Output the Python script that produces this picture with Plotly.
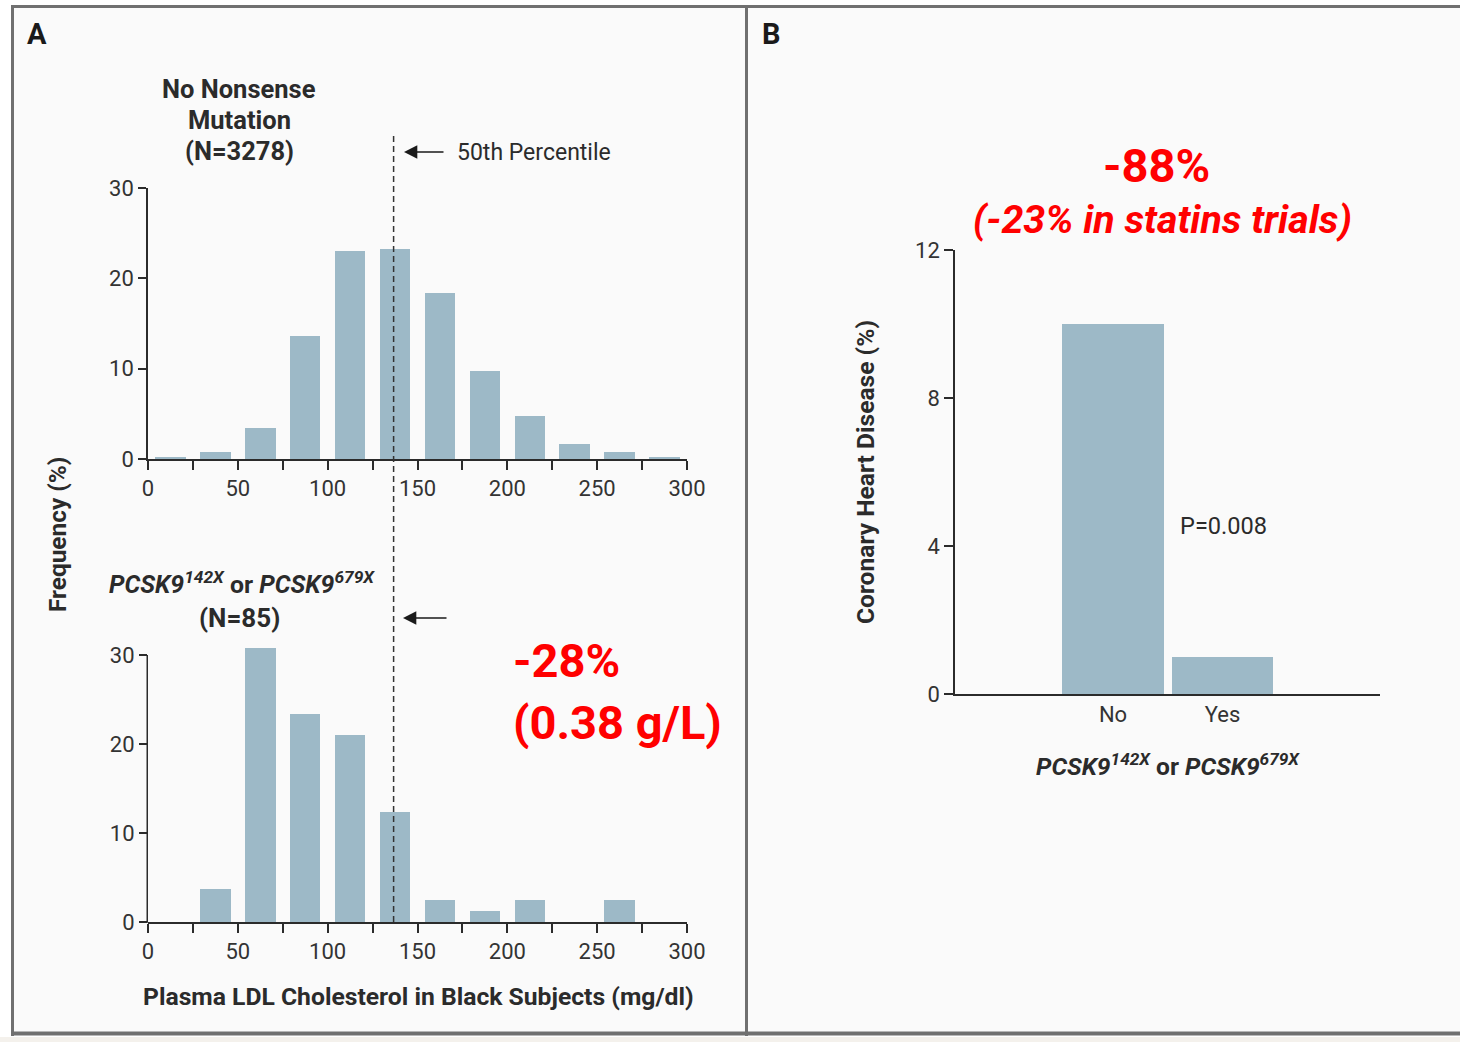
import plotly.graph_objects as go

W, H = 1460, 1042

# ---------------- data ----------------
bin_centers = [12.5, 37.5, 62.5, 87.5, 112.5, 137.5, 162.5, 187.5, 212.5, 237.5, 262.5, 287.5]
freq_no_mutation = [0.2, 0.8, 3.4, 13.6, 23.0, 23.2, 18.4, 9.7, 4.8, 1.7, 0.8, 0.15]
freq_mutation = [0.0, 3.7, 30.8, 23.4, 21.1, 12.4, 2.5, 1.3, 2.5, 0.0, 2.5, 0.0]
median_ldl = 136.7
chd_categories = ["No", "Yes"]
chd_values = [10.0, 1.0]
ldl_tick_vals = [0, 50, 100, 150, 200, 250, 300]
ldl_minor_tick_vals = [25, 75, 125, 175, 225, 275]
freq_tick_vals = [0, 10, 20, 30]
chd_tick_vals = [0, 4, 8, 12]

# ---------------- style ----------------
FONT = "Roboto, Arial, sans-serif"
RED_FONT = "Roboto, Arial, sans-serif"
BAR = "#9db9c7"
INK = "#2b2b2b"
FRAME = "#707070"


def px(x):
    return x / W


def py(y):
    return 1 - y / H


fig = go.Figure()
fig.add_trace(go.Bar(x=bin_centers, y=freq_no_mutation, width=17, marker=dict(color=BAR, line=dict(width=0)),
                     xaxis="x", yaxis="y", hoverinfo="skip"))
fig.add_trace(go.Bar(x=bin_centers, y=freq_mutation, width=17, marker=dict(color=BAR, line=dict(width=0)),
                     xaxis="x2", yaxis="y2", hoverinfo="skip"))
fig.add_trace(go.Bar(x=chd_categories, y=chd_values, width=0.925, marker=dict(color=BAR, line=dict(width=0)),
                     xaxis="x3", yaxis="y3", hoverinfo="skip"))

axis_common = dict(showline=True, linecolor=INK, linewidth=1.5, ticks="outside", tickcolor=INK,
                   tickwidth=1.5, showgrid=False, zeroline=False, fixedrange=True, automargin=False,
                   tickfont=dict(family=FONT, size=22, color="#333333"))
minor_ticks = dict(tickmode="array", tickvals=ldl_minor_tick_vals, ticks="outside", ticklen=9,
                   tickwidth=1.5, tickcolor=INK, showgrid=False)

# bottom histogram: axis scale 267 px per 30 units, extra headroom so the tallest bar is not clipped
y2_top_value = 31.5
y2_top_px = 922 - y2_top_value * 267 / 30

fig.update_layout(
    width=W, height=H, autosize=False,
    margin=dict(l=0, r=0, t=0, b=0, pad=0, autoexpand=False),
    paper_bgcolor="white", plot_bgcolor="rgba(0,0,0,0)", showlegend=False, bargap=0,
    xaxis=dict(axis_common, domain=[px(148), px(687)], range=[0, 300], anchor="y",
               tickvals=ldl_tick_vals, ticklen=9, minor=minor_ticks),
    yaxis=dict(axis_common, domain=[py(459), py(188)], range=[0, 30], anchor="x",
               tickvals=freq_tick_vals, ticklen=8),
    xaxis2=dict(axis_common, domain=[px(148), px(687)], range=[0, 300], anchor="y2",
                tickvals=ldl_tick_vals, ticklen=9, minor=minor_ticks),
    yaxis2=dict(axis_common, domain=[py(922), py(y2_top_px)], range=[0, y2_top_value], anchor="x2",
                tickvals=freq_tick_vals, ticklen=8, showline=False),
    xaxis3=dict(axis_common, domain=[px(955), px(1380)], range=[-1.443, 2.438], anchor="y3",
                type="category", ticks=""),
    yaxis3=dict(axis_common, domain=[py(694), py(250)], range=[0, 12], anchor="x3",
                tickvals=chd_tick_vals, ticklen=9),
)

shapes = [
    # panel background and frame
    dict(type="rect", xref="paper", yref="paper", x0=px(12), x1=1, y0=py(1034), y1=py(7),
         fillcolor="#fafafa", line=dict(width=0), layer="below"),
    dict(type="rect", xref="paper", yref="paper", x0=0, x1=1, y0=0, y1=py(1037),
         fillcolor="#f4f1ec", line=dict(width=0), layer="below"),
    dict(type="line", xref="paper", yref="paper", x0=px(11), x1=1, y0=py(6.5), y1=py(6.5),
         line=dict(color=FRAME, width=3)),
    dict(type="line", xref="paper", yref="paper", x0=px(12.5), x1=px(12.5), y0=py(5), y1=py(1036),
         line=dict(color=FRAME, width=3)),
    dict(type="line", xref="paper", yref="paper", x0=px(746.5), x1=px(746.5), y0=py(5), y1=py(1036),
         line=dict(color=FRAME, width=3)),
    dict(type="line", xref="paper", yref="paper", x0=px(11), x1=1, y0=py(1033.5), y1=py(1033.5),
         line=dict(color=FRAME, width=4)),
    # bottom histogram y-axis line (0 to 30 only)
    dict(type="line", xref="paper", yref="paper", x0=px(147.25), x1=px(147.25), y0=py(922.75), y1=py(655),
         line=dict(color=INK, width=1.5)),
    # 50th percentile dashed line
    dict(type="line", xref="x", yref="paper", x0=median_ldl, x1=median_ldl, y0=py(922), y1=py(132),
         line=dict(color="#333333", width=1.5, dash="6px,4px")),
]
fig.update_layout(shapes=shapes)

ann = []


def text(x, y, s, size, bold=False, italic=False, color=INK, family=FONT, xanchor="center", angle=0):
    if bold:
        s = "<b>" + s + "</b>"
    if italic:
        s = "<i>" + s + "</i>"
    ann.append(dict(xref="paper", yref="paper", x=px(x), y=py(y), text=s, showarrow=False,
                    xanchor=xanchor, yanchor="middle", textangle=angle,
                    font=dict(family=family, size=size, color=color)))


# panel letters
text(37, 34, "A", 29, bold=True, color="#1a1a1a")
text(771, 34, "B", 29, bold=True, color="#1a1a1a")

# panel A titles
text(239, 89, "No Nonsense", 25.5, bold=True)
text(239, 120, "Mutation", 25.5, bold=True)
text(239, 151, "(N=3278)", 25.5, bold=True)
text(455, 152, "50th Percentile", 23, xanchor="left")
text(242, 583, "<i>PCSK9</i><sup><i>142X</i></sup> or <i>PCSK9</i><sup><i>679X</i></sup>", 24.8, bold=True)
text(239, 618, "(N=85)", 26, bold=True)
text(57, 535, "Frequency (%)", 24.4, bold=True, angle=-90)
text(418, 996, "Plasma LDL Cholesterol in Black Subjects (mg/dl)", 24.7, bold=True)

# panel B titles
text(865, 472, "Coronary Heart Disease (%)", 24.6, bold=True, angle=-90)
text(1168, 765, "<i>PCSK9</i><sup><i>142X</i></sup> or <i>PCSK9</i><sup><i>679X</i></sup>", 24.6, bold=True)
text(1178, 526, "P=0.008", 23.6, xanchor="left")

# red annotations
RED = "#ff0000"
text(566, 660, "-28%", 47, bold=True, color=RED, family=RED_FONT)
text(617, 722, "(0.38 g/L)", 47, bold=True, color=RED, family=RED_FONT)
text(1156, 165, "-88%", 47, bold=True, color=RED, family=RED_FONT)
text(1162, 220, "(-23% in statins trials)", 39.4, bold=True, italic=True, color=RED, family=RED_FONT)

# arrows
for head_x, tail_x, yy in [(404, 445, 152), (403, 448, 618)]:
    ann.append(dict(xref="paper", yref="paper", x=px(head_x), y=py(yy), ax=tail_x - head_x, ay=0,
                    text="", showarrow=True, arrowhead=2, arrowsize=1.9, arrowwidth=1.4,
                    arrowcolor="#1a1a1a", standoff=0))

fig.update_layout(annotations=ann)
fig.write_html(
    "out.html",
    config={"displayModeBar": False, "responsive": False},
    post_script=("document.body.style.margin='0';document.body.style.padding='0';"
                 "document.body.style.overflow='hidden';"
                 "document.documentElement.style.overflow='hidden';"),
)
